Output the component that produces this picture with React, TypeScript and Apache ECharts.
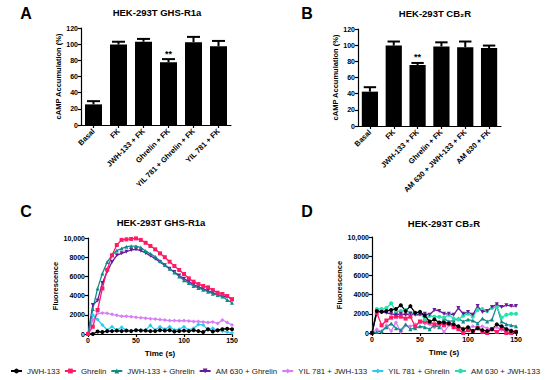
import React, { useEffect, useRef } from "react";
import * as echarts from "echarts";

const FONT = "Liberation Sans";

// Panel A/B bar data
const catsA = ["Basal", "FK", "JWH-133 + FK", "Ghrelin + FK", "YIL 781 + Ghrelin + FK", "YIL 781 + FK"];
const meanA = [25.5, 99.5, 103, 77.5, 102.5, 97.5];
const upperA = [29.5, 103, 106.5, 81.5, 109, 104];
const sigA = ["", "", "", "**", "", ""];

const catsB = ["Basal", "FK", "JWH-133 + FK", "Ghrelin + FK", "AM 630 + JWH-133 + FK", "AM 630 + FK"];
const meanB = [42.5, 99.5, 75.5, 98.5, 97.5, 96.5];
const upperB = [48, 104.5, 78, 103.5, 104.5, 99.5];
const sigB = ["", "", "**", "", "", ""];

// Time axis (s)
const times = [0, 5, 10, 15, 20, 25, 30, 35, 40, 45, 50, 55, 60, 65, 70, 75, 80, 85, 90, 95, 100, 105, 110, 115, 120, 125, 130, 135, 140, 145, 150];

// Panel C (HEK-293T GHS-R1a)
const cJWH = [0, 0, 250, 200, 300, 300, 350, 300, 350, 300, 400, 350, 350, 300, 300, 400, 350, 400, 250, 300, 350, 300, 400, 300, 200, 500, 250, 400, 500, 550, 500];
const cGhrelin = [0, 760, 2500, 4750, 6700, 8200, 9270, 9800, 9860, 9900, 9960, 9800, 9500, 9170, 8820, 8400, 8000, 7530, 7080, 6670, 6250, 5800, 5450, 5200, 5000, 4860, 4580, 4300, 4170, 3960, 3610];
const cJWHGhrelin = [0, 2600, 4750, 6300, 7500, 8200, 8700, 8900, 9100, 9150, 9150, 9000, 8650, 8350, 8050, 7600, 7200, 6800, 6400, 6000, 5600, 5300, 5000, 4800, 4600, 4400, 4200, 4050, 3900, 3550, 3260];
const cAMGhrelin = [0, 3020, 3500, 5300, 6500, 7500, 8200, 8400, 8580, 8750, 8820, 8680, 8450, 8150, 7850, 7500, 7150, 6800, 6450, 6100, 5750, 5450, 5150, 4900, 4700, 4500, 4300, 4100, 3950, 3900, 3600];
const cYILJWH = [0, 1460, 2150, 2200, 2150, 2050, 1950, 1850, 1850, 1800, 1740, 1700, 1650, 1600, 1550, 1500, 1450, 1400, 1400, 1380, 1400, 1350, 1300, 1300, 1250, 1200, 1250, 1100, 1460, 1200, 940];
const cYILGhrelin = [0, 1980, 1500, 940, 420, 760, 420, 700, 400, 350, 400, 420, 420, 900, 420, 760, 500, 760, 420, 500, 760, 420, 600, 1000, 950, 420, 600, 350, 300, 200, 100];

// Panel D (HEK-293T CB2R)
const dJWH = [0, 2300, 2200, 2300, 2400, 2500, 2900, 2300, 2800, 2100, 2200, 1800, 1200, 1400, 1100, 1100, 1000, 900, 700, 400, 600, 200, 500, 300, 200, 400, 900, 700, 400, 200, 100];
const dGhrelin = [0, 2100, 800, 1300, 1600, 1700, 1700, 1500, 1700, 700, 1200, 1200, 1100, 900, 1000, 800, 1000, 600, 400, 0, 300, 200, 500, 100, 0, 400, 100, 500, 0, 0, 100];
const dJWHGhrelin = [0, 100, 200, 600, 1000, 500, 300, 900, 400, 500, 700, 600, 400, 800, 600, 1500, 1200, 1300, 1500, 1200, 1400, 1300, 1000, 1500, 1200, 1400, 2800, 1200, 900, 800, 700];
const dAMGhrelin = [0, 2200, 2200, 2100, 2000, 1900, 2000, 1900, 2000, 1900, 1900, 2000, 1900, 2400, 2300, 2000, 2000, 1900, 2600, 2000, 2200, 1900, 2800, 2200, 2300, 2700, 3000, 2700, 2900, 2800, 2800];
const dYILJWH = [0, 400, 100, 800, 200, 1100, 100, 800, 700, 900, 1100, 1000, 900, 600, 900, 100, 800, 700, 600, 500, 500, 700, 600, 700, 500, 400, 600, 300, 500, 300, 200];
const dAMJWH = [0, 2500, 2500, 2600, 3100, 2200, 2300, 2400, 2100, 2000, 2200, 1400, 1800, 1700, 1700, 1600, 1900, 1500, 1400, 1800, 2000, 1700, 2400, 2500, 2300, 2600, 2700, 1600, 1900, 2000, 2000];

const legendNames = ["JWH-133", "Ghrelin", "JWH-133 + Ghrelin", "AM 630 + Ghrelin", "YIL 781 + JWH-133", "YIL 781 + Ghrelin", "AM 630 + JWH-133"];
const colors: Record<string, string> = {
  "JWH-133": "#000000",
  "Ghrelin": "#ff1a66",
  "JWH-133 + Ghrelin": "#138a8a",
  "AM 630 + Ghrelin": "#6a1b9a",
  "YIL 781 + JWH-133": "#d97df5",
  "YIL 781 + Ghrelin": "#2ec9f0",
  "AM 630 + JWH-133": "#26e0ad",
};
const symbols: Record<string, string> = {
  "JWH-133": "circle",
  "Ghrelin": "rect",
  "JWH-133 + Ghrelin": "triangle",
  "AM 630 + Ghrelin": "path://M0,0L10,0L5,9Z",
  "YIL 781 + JWH-133": "diamond",
  "YIL 781 + Ghrelin": "diamond",
  "AM 630 + JWH-133": "circle",
};

const seriesC: [string, number[]][] = [
  ["YIL 781 + JWH-133", cYILJWH],
  ["YIL 781 + Ghrelin", cYILGhrelin],
  ["JWH-133", cJWH],
  ["AM 630 + Ghrelin", cAMGhrelin],
  ["JWH-133 + Ghrelin", cJWHGhrelin],
  ["Ghrelin", cGhrelin],
];
const seriesD: [string, number[]][] = [
  ["YIL 781 + JWH-133", dYILJWH],
  ["JWH-133 + Ghrelin", dJWHGhrelin],
  ["Ghrelin", dGhrelin],
  ["AM 630 + JWH-133", dAMJWH],
  ["AM 630 + Ghrelin", dAMGhrelin],
  ["JWH-133", dJWH],
];

const axisLine = { show: true, lineStyle: { color: "#000", width: 1.2 } };
const axisTick = { show: true, length: 3, lineStyle: { color: "#000", width: 1.2 } };
const tickLabel = { color: "#000", fontFamily: FONT, fontWeight: "bold" as const, fontSize: 7, margin: 3 };
const nameStyle = { color: "#000", fontFamily: FONT, fontWeight: "bold" as const, fontSize: 7.5 };

function errRender(sigs: string[]) {
  return (params: any, api: any) => {
    const i = api.value(0);
    const v = api.value(1);
    const u = api.value(2);
    const p0 = api.coord([i, v]);
    const p1 = api.coord([i, u]);
    const bw = api.size([1, 0])[0];
    const half = bw * 0.26;
    const st = { stroke: "#000", lineWidth: 2 };
    const children: any[] = [
      { type: "line", shape: { x1: p0[0], y1: p0[1], x2: p1[0], y2: p1[1] }, style: st },
      { type: "line", shape: { x1: p1[0] - half, y1: p1[1], x2: p1[0] + half, y2: p1[1] }, style: st },
    ];
    const s = sigs[params.dataIndex];
    if (s) {
      children.push({
        type: "text",
        x: p1[0],
        y: p1[1] - 1,
        style: { text: s, align: "center", verticalAlign: "bottom", fontFamily: FONT, fontWeight: "bold", fontSize: 9, fill: "#000" },
      });
    }
    return { type: "group", children };
  };
}

export default function App() {
  const ref = useRef<HTMLDivElement>(null);
  useEffect(() => {
    if (!ref.current) return;
    const chart = echarts.init(ref.current, undefined, { renderer: "svg" });

    const xAxes: any[] = [];
    const yAxes: any[] = [];
    const series: any[] = [];

    const grids = [
      { left: 81, top: 28, width: 150, height: 97 },
      { left: 358, top: 29, width: 143, height: 97 },
      { left: 88, top: 238, width: 144, height: 96 },
      { left: 372, top: 237, width: 144, height: 96 },
    ];

    const barPanels: [string[], number[], number[], string[], number][] = [
      [catsA, meanA, upperA, sigA, 18],
      [catsB, meanB, upperB, sigB, 16],
    ];
    barPanels.forEach(([cats, mean, upper, sig, gap], gi) => {
      xAxes.push({
        type: "category",
        gridIndex: gi,
        data: cats,
        axisLine,
        axisTick: { ...axisTick, alignWithLabel: true },
        axisLabel: { ...tickLabel, fontSize: 7.5, rotate: 45, interval: 0, margin: 5 },
      });
      yAxes.push({
        type: "value",
        gridIndex: gi,
        min: 0,
        max: 120,
        interval: 20,
        axisLine,
        axisTick,
        splitLine: { show: false },
        axisLabel: tickLabel,
        name: "cAMP Accumulation (%)",
        nameLocation: "middle",
        nameGap: gap,
        nameTextStyle: nameStyle,
      });
      series.push({
        type: "bar",
        xAxisIndex: gi,
        yAxisIndex: gi,
        data: mean,
        barWidth: "68%",
        itemStyle: { color: "#000" },
        silent: true,
      });
      series.push({
        type: "custom",
        xAxisIndex: gi,
        yAxisIndex: gi,
        data: mean.map((m, i) => [i, m, upper[i]]),
        renderItem: errRender(sig),
        z: 5,
        silent: true,
      });
    });

    const linePanels: [[string, number[]][], number][] = [
      [seriesC, 28],
      [seriesD, 26],
    ];
    linePanels.forEach(([list, gap], k) => {
      const gi = k + 2;
      xAxes.push({
        type: "value",
        gridIndex: gi,
        min: 0,
        max: 150,
        interval: 50,
        axisLine,
        axisTick,
        splitLine: { show: false },
        axisLabel: tickLabel,
        name: "Time (s)",
        nameLocation: "middle",
        nameGap: 15,
        nameTextStyle: { ...nameStyle, fontSize: 8 },
      });
      yAxes.push({
        type: "value",
        gridIndex: gi,
        min: 0,
        max: 10000,
        interval: 2000,
        axisLine,
        axisTick,
        splitLine: { show: false },
        axisLabel: { ...tickLabel, formatter: (v: number) => (v === 10000 ? "10,000" : String(v)) },
        name: "Fluorescence",
        nameLocation: "middle",
        nameGap: gap,
        nameTextStyle: nameStyle,
      });
      list.forEach(([name, vals]) => {
        series.push({
          type: "line",
          name,
          xAxisIndex: gi,
          yAxisIndex: gi,
          data: vals.map((v, i) => [times[i], v]),
          symbol: symbols[name],
          symbolSize: 4,
          showSymbol: true,
          color: colors[name],
          lineStyle: { width: 1.3, color: colors[name] },
          itemStyle: { color: colors[name] },
          silent: true,
        });
      });
    });

    const txt = (x: number, y: number, text: string, size: number) => ({
      type: "text",
      x,
      y,
      style: { text, align: "center", verticalAlign: "middle", fontFamily: FONT, fontWeight: "bold", fontSize: size, fill: "#000" },
    });

    chart.setOption({
      animation: false,
      backgroundColor: "#fff",
      grid: grids.map((g) => ({ ...g, containLabel: false })),
      xAxis: xAxes,
      yAxis: yAxes,
      series,
      legend: {
        data: legendNames,
        left: 5,
        top: 362,
        width: 545,
        itemWidth: 11,
        itemHeight: 6,
        itemGap: 4,
        textStyle: { fontFamily: FONT, fontSize: 7.9, color: "#222" },
        selectedMode: false,
      },
      graphic: [
        txt(26, 13, "A", 16),
        txt(307, 13, "B", 16),
        txt(26, 211, "C", 16),
        txt(307, 211, "D", 16),
        txt(157, 12, "HEK-293T GHS-R1a", 9.5),
        txt(435, 13.5, "HEK-293T CB\u2082R", 9.5),
        txt(161, 222, "HEK-293T GHS-R1a", 9.5),
        txt(444, 223, "HEK-293T CB\u2082R", 9.5),
      ],
    });
    return () => chart.dispose();
  }, []);
  return <div ref={ref} style={{ position: "fixed", left: 0, top: 0, width: 550, height: 380 }} />;
}
